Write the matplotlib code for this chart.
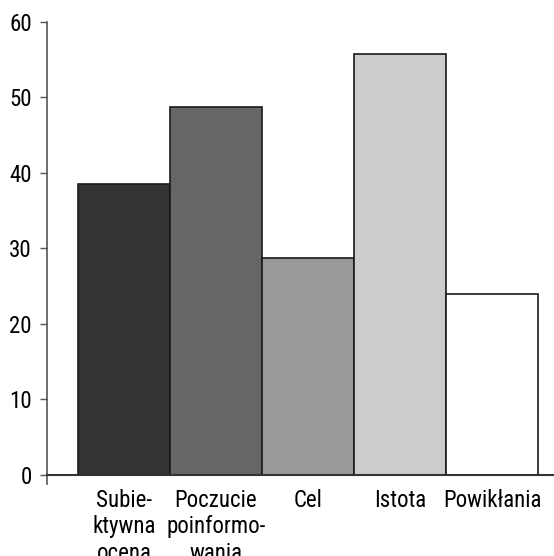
import matplotlib
matplotlib.use("Agg")
import matplotlib.pyplot as plt
from matplotlib import font_manager

names = {f.name for f in font_manager.fontManager.ttflist}
wanted = ['Liberation Sans Narrow', 'Roboto Condensed', 'Archivo Narrow', 'PT Sans Narrow', 'Barlow Condensed']
family = [n for n in wanted if n in names][:1] + ['DejaVu Sans']
plt.rcParams['font.family'] = family
plt.rcParams['font.size'] = 16.5

categories = ['Subie-\nktywna\nocena', 'Poczucie\npoinformo-\nwania', 'Cel', 'Istota', 'Powikłania']
values = [38.6, 48.7, 28.8, 55.8, 24.0]
colors = ['#333333', '#666666', '#999999', '#cccccc', '#ffffff']
yticks = [0, 10, 20, 30, 40, 50, 60]

fig = plt.figure(figsize=(5.54, 5.56), dpi=100)
ax = fig.add_axes([47 / 554, 72 / 556, 1 - 47 / 554, (534 - 72) / 556])

x = list(range(len(categories)))
ax.bar(x, values, width=1.0, color=colors, edgecolor='#1a1a1a', linewidth=1.2)

ax.set_xlim(-0.837, 4.674)
ax.set_ylim(-1.2, 60)
ax.set_yticks(yticks)
ax.set_xticks(x)
ax.set_xticklabels(categories, va='top')
for lbl in ax.get_xticklabels():
    lbl.set_linespacing(0.95)
ax.tick_params(axis='x', length=0, pad=10)
ax.tick_params(axis='y', length=5, width=1, color='#555555', pad=6)

ax.spines['top'].set_visible(False)
ax.spines['right'].set_visible(False)
ax.spines['bottom'].set_position(('data', 0))
ax.spines['bottom'].set_color('#333333')
ax.spines['left'].set_color('#555555')
ax.spines['left'].set_linewidth(1.2)
ax.spines['bottom'].set_linewidth(1.5)

fig.savefig('out.png', dpi=100)
